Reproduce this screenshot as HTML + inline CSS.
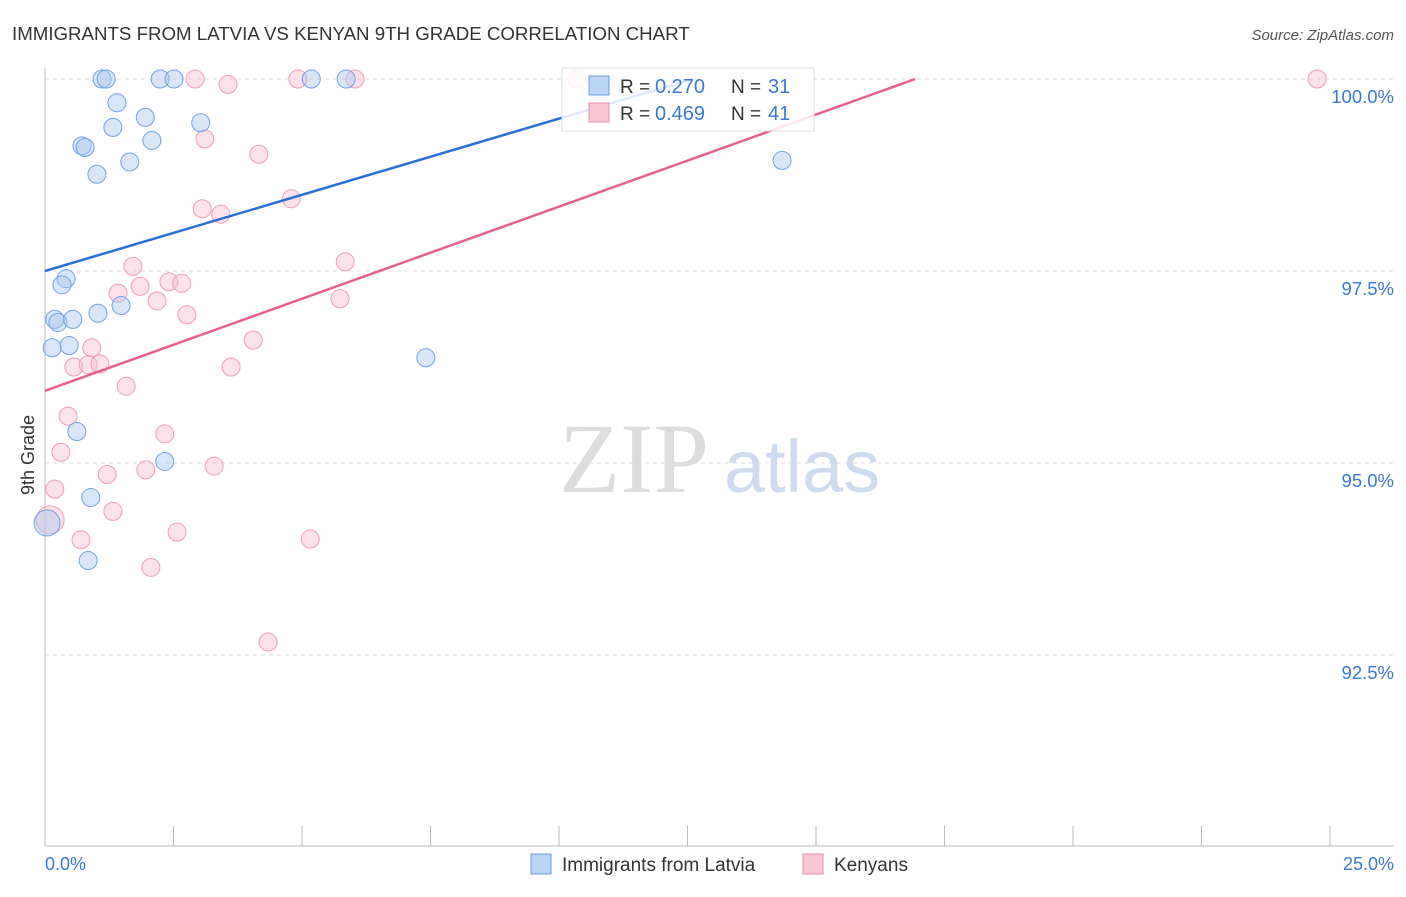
<!DOCTYPE html>
<html><head><meta charset="utf-8"><style>
body{margin:0;background:#fff;font-family:"Liberation Sans",sans-serif;}
</style></head><body>
<svg width="1406" height="892" font-family="Liberation Sans, sans-serif">
<text x="12" y="40" font-size="18.7" fill="#333">IMMIGRANTS FROM LATVIA VS KENYAN 9TH GRADE CORRELATION CHART</text>
<text x="1394" y="40" font-size="15" fill="#555" text-anchor="end" font-style="italic">Source: ZipAtlas.com</text>
<g id="grid"></g>
<text x="634" y="492" font-size="100" fill="#ddd" style="font-family:'Liberation Serif',serif" text-anchor="middle">ZIP</text>
<text x="802" y="492" font-size="74" fill="#cfdcf0" text-anchor="middle">atlas</text>
<g id="pts"></g>
<g id="lines"></g>
<text x="34" y="455" font-size="18" fill="#333" transform="rotate(-90 34 455)" text-anchor="middle">9th Grade</text>
<text x="45" y="870" font-size="18" fill="#3a78d8">0.0%</text>
<text x="1394" y="870" font-size="18" fill="#3a78d8" text-anchor="end">25.0%</text>
<g>
<rect x="562" y="68" width="252" height="63" fill="rgba(255,255,255,0.85)" stroke="#ddd"/>
<rect x="589" y="76" width="20" height="19" fill="#bcd4f5" stroke="#6a9ee6"/>
<rect x="589" y="103" width="20" height="19" fill="#f8c8d6" stroke="#ea8fab"/>
<text x="620" y="93" font-size="19" fill="#333">R =</text><text x="655" y="93" font-size="20" fill="#3a78d8">0.270</text>
<text x="731" y="93" font-size="19" fill="#333">N =</text><text x="768" y="93" font-size="20" fill="#3a78d8">31</text>
<text x="620" y="120" font-size="19" fill="#333">R =</text><text x="655" y="120" font-size="20" fill="#3a78d8">0.469</text>
<text x="731" y="120" font-size="19" fill="#333">N =</text><text x="768" y="120" font-size="20" fill="#3a78d8">41</text>
</g>
<g>
<rect x="531" y="854" width="20" height="20" fill="#bcd4f5" stroke="#6a9ee6"/>
<text x="562" y="871" font-size="19" fill="#333">Immigrants from Latvia</text>
<rect x="803" y="854" width="20" height="20" fill="#f8c8d6" stroke="#ea8fab"/>
<text x="834" y="871" font-size="19" fill="#333">Kenyans</text>
</g>
</svg>
<script>
const yTicks=[100,97.5,95,92.5];
const yTickLabels=["100.0%","97.5%","95.0%","92.5%"];
const blueX=[1.11,1.19,2.24,2.51,5.18,5.86,1.40,1.95,1.32,3.03,2.08,0.72,0.78,1.65,1.01,14.34,0.41,0.33,0.19,0.25,0.54,1.03,1.48,0.14,0.47,7.41,0.62,2.33,0.89,0.04,0.84];
const blueY=[100,100,100,100,100,100,99.69,99.5,99.37,99.43,99.2,99.13,99.11,98.92,98.76,98.94,97.4,97.32,96.87,96.83,96.87,96.95,97.05,96.5,96.53,96.37,95.41,95.02,94.55,94.22,93.73];
const pinkX=[10.35,2.92,4.92,6.03,24.75,3.56,3.11,4.16,3.06,3.42,4.79,1.71,5.84,1.85,1.42,2.41,2.66,2.18,5.74,2.76,4.05,0.91,0.56,0.84,1.07,3.62,1.58,0.45,2.33,0.31,3.29,1.21,1.96,0.19,0.1,1.32,2.57,0.7,5.16,2.06,4.34];
const pinkY=[100,100,100,100,100,99.93,99.22,99.02,98.31,98.24,98.44,97.56,97.62,97.3,97.21,97.36,97.34,97.11,97.14,96.93,96.6,96.5,96.25,96.28,96.29,96.25,96.0,95.61,95.38,95.14,94.96,94.85,94.91,94.66,94.26,94.37,94.1,94.0,94.01,93.64,92.67];
const bigBlue=29, bigPink=34;
const lineBlue=[[0,97.5],[12.6,100]];
const linePink=[[0,95.94],[16.93,100]];
const NS="http://www.w3.org/2000/svg";
const X=v=>45+v/25*1285, Y=v=>79+(100-v)/2.5*192;
function mk(t,a,p){const e=document.createElementNS(NS,t);for(const k in a)e.setAttribute(k,a[k]);p.appendChild(e);return e;}
const g=document.getElementById('grid');
yTicks.forEach((t,i)=>{
 const l=mk('line',{x1:45,x2:1394,y1:Y(t),y2:Y(t),stroke:'#ddd','stroke-dasharray':'4,4'},g);
 
 
 const tx=mk('text',{x:1394,y:Y(t)+24,'font-size':18.5,fill:'#3a78d8','text-anchor':'end'},g);
 tx.textContent=yTickLabels[i];
 
 
});
const ax=mk('line',{x1:45,x2:45,y1:68,y2:846,stroke:'#bbb'},g);


const bx=mk('line',{x1:45,x2:1394,y1:846,y2:846,stroke:'#bbb'},g);


for(let i=0;i<=10;i++){const t=mk('line',{x1:X(i*2.5),x2:X(i*2.5),y1:826,y2:846,stroke:'#bbb'},g);
 
 }
const p=document.getElementById('pts');
pinkX.forEach((v,i)=>{const c=mk('circle',{cx:X(v),cy:Y(pinkY[i]),r:i==bigPink?14:9,fill:'rgba(248,190,208,0.45)',stroke:'#ef9fb8'},p);
 
 });
blueX.forEach((v,i)=>{const c=mk('circle',{cx:X(v),cy:Y(blueY[i]),r:i==bigBlue?13:9,fill:'rgba(170,200,240,0.45)',stroke:'#72a2e6'},p);
 
 });
const L=document.getElementById('lines');
const lb=mk('line',{x1:X(lineBlue[0][0]),y1:Y(lineBlue[0][1]),x2:X(lineBlue[1][0]),y2:Y(lineBlue[1][1]),stroke:'#2a6fd6','stroke-width':2.5},L);


const lp=mk('line',{x1:X(linePink[0][0]),y1:Y(linePink[0][1]),x2:X(linePink[1][0]),y2:Y(linePink[1][1]),stroke:'#e8608a','stroke-width':2.5},L);


</script>
</body></html>
